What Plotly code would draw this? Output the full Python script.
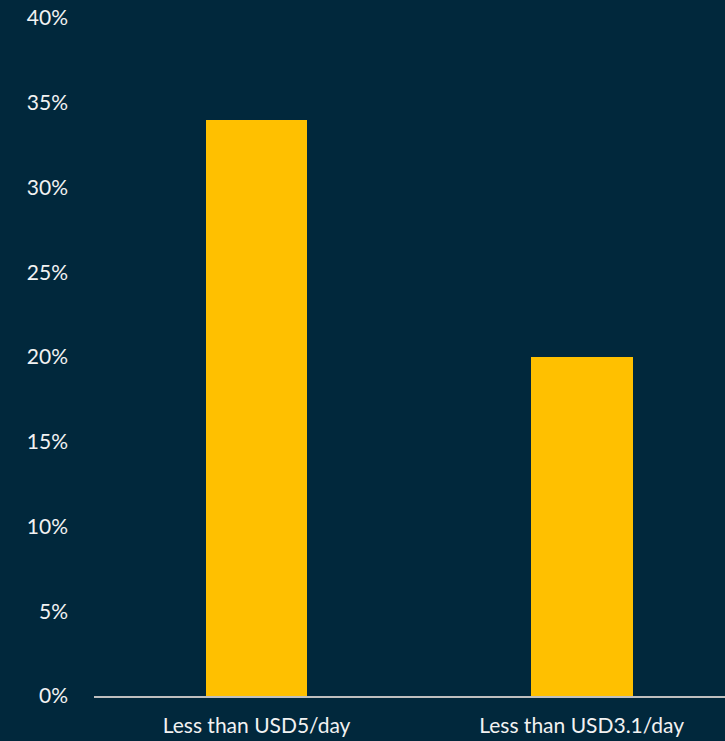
import plotly.graph_objects as go

categories = ["Less than USD5/day", "Less than USD3.1/day"]
values = [34, 20]
tick_vals = [0, 5, 10, 15, 20, 25, 30, 35, 40]
tick_text = ["0%", "5%", "10%", "15%", "20%", "25%", "30%", "35%", "40%"]

BG = "#01283C"
fig = go.Figure(go.Bar(x=categories, y=values, marker=dict(color="#FFC000", line=dict(width=0)), width=0.313))

fig.update_layout(
    width=725, height=741,
    paper_bgcolor=BG, plot_bgcolor=BG,
    margin=dict(l=94, r=0, t=18, b=45),
    font=dict(family="Lato", size=21, color="#F2F2F2"),
    showlegend=False,
    bargap=0,
)
fig.update_xaxes(
    range=[-0.5, 1.441], showgrid=False, zeroline=False,
    showline=True, linecolor="#BFBFBF", linewidth=2,
    ticks="", ticklabelstandoff=10,
)
fig.update_yaxes(
    range=[0, 40], tickvals=tick_vals, ticktext=tick_text,
    showgrid=False, zeroline=False, showline=False,
    ticks="", ticklabelstandoff=25,
)
fig.write_html(
    "out.html",
    config={"displayModeBar": False},
    post_script="document.body.style.margin='0';document.body.style.overflow='hidden';document.body.style.background='#01283C';",
)
